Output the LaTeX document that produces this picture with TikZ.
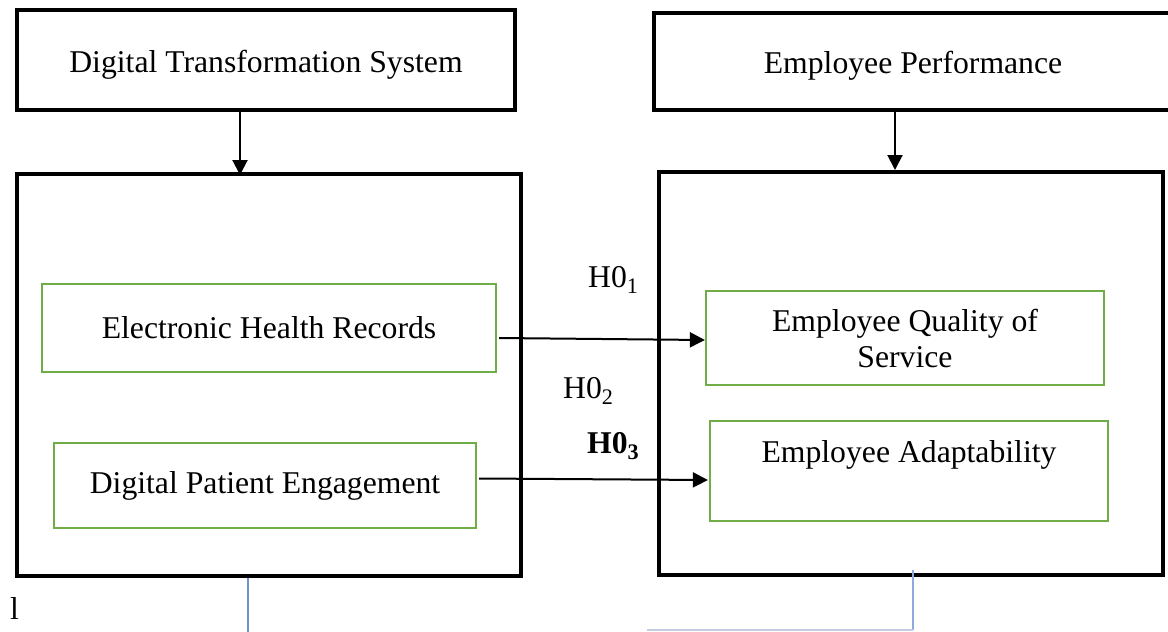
\documentclass[tikz,border=0pt]{standalone}
\usepackage{fontspec}
\setmainfont{Liberation Serif}
\usetikzlibrary{calc, arrows.meta}
\definecolor{boxgreen}{RGB}{112,173,71}
\definecolor{lineblue}{RGB}{112,146,208}
\definecolor{paleblue}{RGB}{142,169,219}
\definecolor{faintblue}{RGB}{196,205,226}

\begin{document}
\begin{tikzpicture}[x=1pt,y=-1pt,font=\fontsize{31.7}{36}\selectfont,
		blackbox/.style={draw,line width=4pt,inner sep=0pt},
		topbox/.style={blackbox,text height=31pt,text depth=7pt},
		greenbox/.style={draw=boxgreen,line width=2.2pt,inner sep=0pt,align=center},
		arr/.style={-{Triangle[length=15pt,width=15pt]},line width=2pt},
		hlabel/.style={anchor=base west,inner sep=0pt}]
		\useasboundingbox (0,0) rectangle (1168,632);
		\clip (0,0) rectangle (1168,632);
		\node[topbox,minimum width=498,minimum height=100](dts)at(266,60){Digital Transformation System};
		\node[topbox,minimum width=518,minimum height=97](ep)at(913,61.5){Employee Performance};
		\node[blackbox,minimum width=504,minimum height=402](lbox)at(269,375){};
		\node[blackbox,minimum width=504,minimum height=403](rbox)at(911,373.5){};
		\node[greenbox,minimum width=454,minimum height=88](ehr)at(269,328){Electronic Health Records};
		\node[greenbox,minimum width=422,minimum height=85](dpe)at(265,485.5){Digital Patient Engagement};
		\node[greenbox,minimum width=398,minimum height=94](eqs)at(905,338){Employee Quality of\\Service};
		\node[greenbox,minimum width=398,minimum height=100,text height=22pt,text depth=40pt](ea)at(909,471){Employee Adaptability};
		% arrows into the big boxes
		\coordinate(t1)at($(dts.south)+(-26,0)$);
		\coordinate(t2)at($(ep.south)+(-18,0)$);
		\draw[arr](t1)--($(t1 |- lbox.north)+(0,3)$);
		\draw[arr](t2)--(t2 |- rbox.north);
		% hypotheses
		\draw[arr]($(ehr.east)+(2,10)$)--($(eqs.west)+(0,2)$);
		\draw[arr]($(dpe.east)+(2,-7)$)--($(ea.west)+(-1,9)$);
		\node[hlabel](h1)at(588,287){H0\textsubscript{1}};
		\node[hlabel](h2)at(563,398){H0\textsubscript{2}};
		\node[hlabel](h3)at(587,453){\textbf{H0\textsubscript{3}}};
		\node[hlabel](mark)at(10,619){l};
		% blue lines at the bottom
		\coordinate(lb)at(248,632);
		\coordinate(rb)at(913,630);
		\coordinate(rc)at(647,630);
		\draw[lineblue,line width=1.2pt](lb |- lbox.south)--(lb);
		\draw[paleblue,line width=2pt]($(rb |- rbox.south)+(0,-7)$)--(rb);
		\draw[faintblue,line width=1.5pt](rb)--(rc);
	\end{tikzpicture}
\end{document}
